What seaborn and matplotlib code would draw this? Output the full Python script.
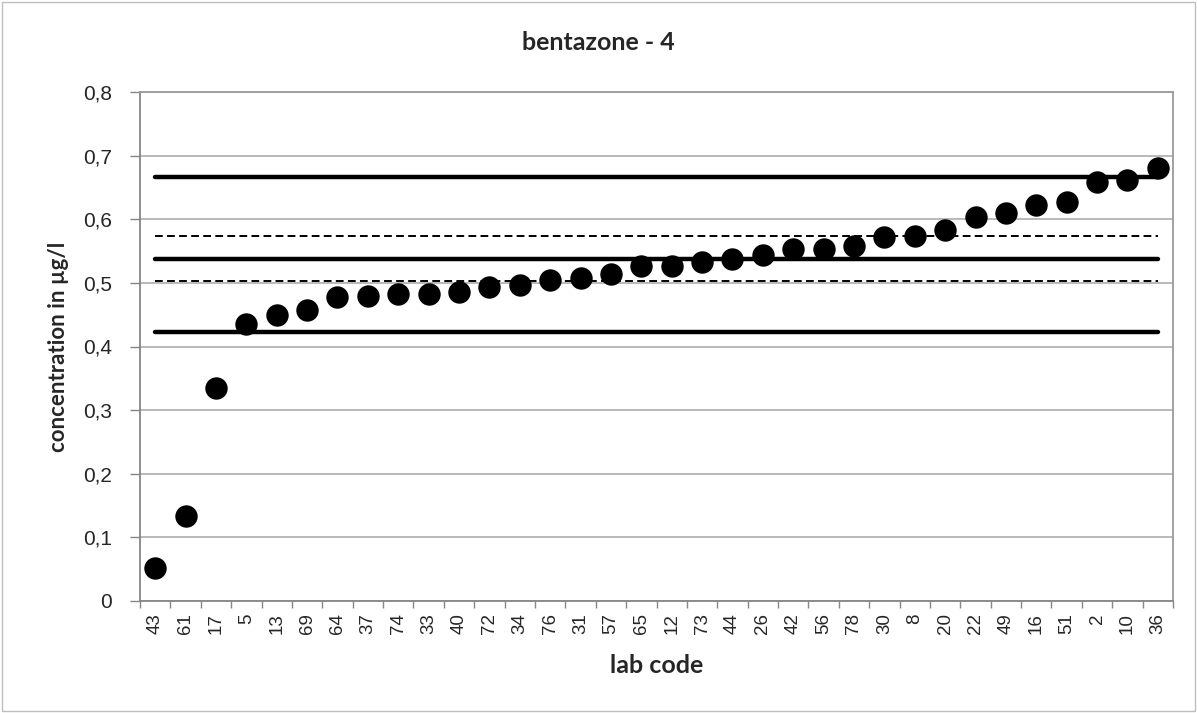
import matplotlib
matplotlib.use('Agg')
import matplotlib.pyplot as plt
import seaborn as sns
import pandas as pd
import numpy as np
from matplotlib.ticker import FuncFormatter, MultipleLocator, FixedLocator
from matplotlib.patches import Rectangle

# dati
lab_codes = ['43', '61', '17', '5', '13', '69', '64', '37', '74', '33', '40', '72',
             '34', '76', '31', '57', '65', '12', '73', '44', '26', '42', '56', '78',
             '30', '8', '20', '22', '49', '16', '51', '2', '10', '36']
concentrations = [0.052, 0.133, 0.335, 0.435, 0.449, 0.458, 0.478, 0.480, 0.482, 0.483,
                  0.485, 0.494, 0.496, 0.505, 0.507, 0.514, 0.526, 0.527, 0.533, 0.538,
                  0.544, 0.554, 0.554, 0.558, 0.572, 0.573, 0.583, 0.603, 0.610, 0.623,
                  0.627, 0.659, 0.661, 0.681]
limits_solid = [0.666, 0.538, 0.423]   # limiti superiori/inferiori e valore assegnato
limits_dashed = [0.573, 0.503]         # incertezza

df = pd.DataFrame({'lab': lab_codes, 'conc': concentrations})

sns.set_style('white')
plt.rcParams['font.family'] = ['Liberation Sans', 'DejaVu Sans']
bold_font = ['Lato', 'DejaVu Sans']

fig = plt.figure(figsize=(11.97, 7.13), dpi=100)
ax = fig.add_axes([140 / 1197, 1 - 601 / 713, 1033 / 1197, 509 / 713])

n = len(lab_codes)
ax.hlines(limits_solid, 0, n - 1, colors='black', linewidth=3.2, capstyle='round', zorder=2)
ax.hlines(limits_dashed, 0, n - 1, colors='black', linewidth=1.4, linestyles=(0, (4, 2.2)), zorder=2)

sns.scatterplot(data=df, x='lab', y='conc', ax=ax, color='black', s=260,
                edgecolor='black', linewidth=0, zorder=3, legend=False)

ax.set_xlim(-0.5, n - 0.5)
ax.set_ylim(0, 0.8)
ax.yaxis.set_major_locator(MultipleLocator(0.1))
ax.yaxis.set_major_formatter(FuncFormatter(lambda v, p: ('%.1f' % v).replace('.', ',') if v > 1e-9 else '0'))
ax.grid(axis='y', color='#a6a6a6', linewidth=1.1, zorder=0)
ax.set_axisbelow(True)

ax.set_xticks(range(n))
ax.set_xticklabels(lab_codes, rotation=90, fontsize=13.5)
ax.xaxis.set_minor_locator(FixedLocator(np.arange(-0.5, n, 1.0)))
ax.tick_params(axis='x', which='major', length=0, pad=9)
ax.tick_params(axis='x', which='minor', length=5, color='#868686', width=1, direction='out', bottom=True)
ax.tick_params(axis='y', which='major', length=7, color='#868686', width=1, direction='out', left=True,
               labelsize=15, pad=13)

for side in ['top', 'right', 'left', 'bottom']:
    ax.spines[side].set_visible(True)
    ax.spines[side].set_color('#9a9a9a')
    ax.spines[side].set_linewidth(1.3)
ax.spines['left'].set_color('#868686')
ax.spines['bottom'].set_color('#868686')

ax.set_xlabel('lab code', fontsize=18, fontweight='bold', family=bold_font, labelpad=14)
ax.set_ylabel('concentration in µg/l', fontsize=16, fontweight='bold', family=bold_font, labelpad=10)
fig.text(0.5, 1 - 42 / 713, 'bentazone - 4', ha='center', va='center', fontsize=18,
         fontweight='bold', family=bold_font)

# bordo esterno del grafico
fig.patches.append(Rectangle((2 / 1197, 2 / 713), 1 - 4 / 1197, 1 - 4 / 713, transform=fig.transFigure,
                             fill=False, edgecolor='#bfbfbf', linewidth=1))

plt.savefig('out.png', dpi=100)
